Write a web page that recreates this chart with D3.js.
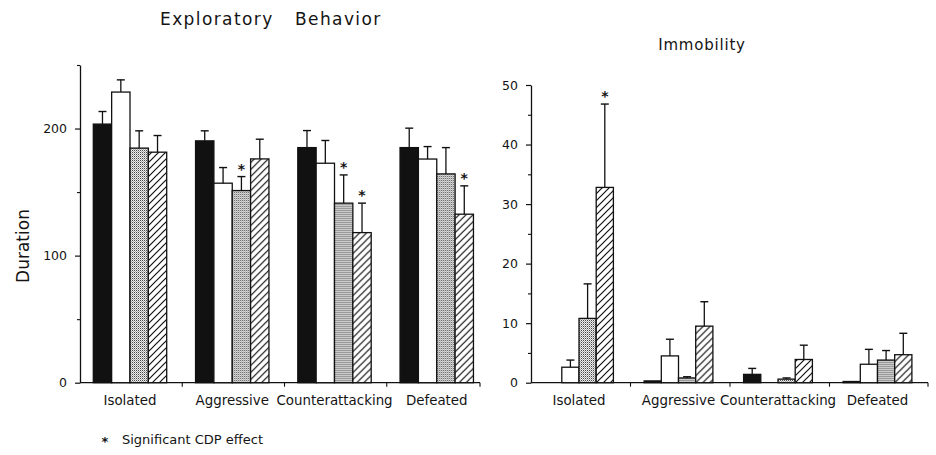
<!DOCTYPE html>
<html><head><meta charset="utf-8">
<script src="https://cdn.jsdelivr.net/npm/d3@7"></script>
<style>
body{margin:0;background:#fff}
svg{display:block}
text{font-family:"DejaVu Sans",sans-serif;fill:#141414}
</style>
</head><body>
<svg id="c" width="936" height="455"></svg>
<script>
// ---------- data ----------
const categories = ["Isolated", "Aggressive", "Counterattacking", "Defeated"];
const seriesKeys = ["black", "white", "dotted", "hatched"];

// Exploratory Behavior (Duration) — means
const exploreBlack   = [203.5, 190.3, 185.0, 185.0];
const exploreWhite   = [228.7, 157.0, 172.7, 176.0];
const exploreDotted  = [184.6, 151.2, 141.3, 164.3];
const exploreHatched = [181.4, 176.1, 118.1, 132.6];
// Exploratory Behavior — error (upper bar length)
const exploreBlackErr   = [9.9, 7.9, 13.4, 15.3];
const exploreWhiteErr   = [9.6, 12.3, 17.9, 9.8];
const exploreDottedErr  = [13.6, 11.0, 22.2, 20.7];
const exploreHatchedErr = [13.1, 15.5, 23.2, 22.3];
const exploreStars = [["Aggressive", "dotted"], ["Counterattacking", "dotted"], ["Counterattacking", "hatched"], ["Defeated", "hatched"]];
const exploreMajorTicks = [0, 100, 200];
const exploreMinorTicks = [50, 150, 250];

// Immobility — means
const immobBlack   = [0, 0.3, 1.4, 0.2];
const immobWhite   = [2.6, 4.5, 0, 3.1];
const immobDotted  = [10.8, 0.8, 0.6, 3.8];
const immobHatched = [32.8, 9.5, 3.9, 4.7];
// Immobility — error
const immobBlackErr   = [0, 0, 1.0, 0];
const immobWhiteErr   = [1.2, 2.8, 0, 2.5];
const immobDottedErr  = [5.8, 0.2, 0.2, 1.6];
const immobHatchedErr = [14.0, 4.1, 2.4, 3.6];
const immobStars = [["Isolated", "hatched"]];
const immobMajorTicks = [0, 10, 20, 30, 40, 50];
const immobMinorTicks = [5, 15, 25, 35, 45];

// ---------- drawing ----------
const svg = d3.select("#c");
const defs = svg.append("defs");

const dots = defs.append("pattern").attr("id", "dots")
  .attr("patternUnits", "userSpaceOnUse").attr("width", 2).attr("height", 2);
dots.append("rect").attr("width", 2).attr("height", 2).attr("fill", "#ececec");
dots.append("rect").attr("width", 1).attr("height", 1).attr("fill", "#4a4a4a");
dots.append("rect").attr("x", 1).attr("y", 1).attr("width", 1).attr("height", 1).attr("fill", "#a8a8a8");

const hatch = defs.append("pattern").attr("id", "hatch")
  .attr("patternUnits", "userSpaceOnUse").attr("width", 7).attr("height", 7);
hatch.append("rect").attr("width", 7).attr("height", 7).attr("fill", "#fff");
hatch.append("path").attr("d", "M-1,8 L8,-1 M-2,2 L2,-2 M5,9 L9,5")
  .attr("stroke", "#111").attr("stroke-width", 1.2);

const fills = {black: "#111", white: "#fff", dotted: "url(#dots)", hatched: "url(#hatch)"};

function buildRows(means, errs) {
  return categories.map((c, i) => {
    const o = {category: c};
    seriesKeys.forEach((k, j) => { o[k] = means[j][i]; o[k + "Err"] = errs[j][i]; });
    return o;
  });
}

function drawPanel(cfg) {
  const g = svg.append("g");
  const y = d3.scaleLinear().domain(cfg.domain).range([cfg.bottom, cfg.top]);
  const x = d3.scaleBand().domain(categories).range([cfg.left, cfg.right]);
  const xi = d3.scaleBand().domain(seriesKeys).range([cfg.innerStart, cfg.innerStart + cfg.barW * 4]);

  // y axis
  const ax = g.append("g").attr("transform", `translate(${cfg.left},0)`)
    .call(d3.axisLeft(y).tickValues(cfg.major).tickSize(5).tickSizeOuter(0).tickPadding(8));
  ax.selectAll("text").style("font-size", "12.5px").style("font-family", "DejaVu Sans");
  ax.select(".domain").attr("stroke", "#111").attr("stroke-width", 1.3);
  ax.selectAll(".tick line").attr("stroke", "#111").attr("stroke-width", 1.2);
  const axm = g.append("g").attr("transform", `translate(${cfg.left},0)`)
    .call(d3.axisLeft(y).tickValues(cfg.minor).tickSize(3).tickFormat(""));
  axm.select(".domain").remove();
  axm.selectAll(".tick line").attr("stroke", "#111").attr("stroke-width", 1.1);

  // x axis baseline and separator ticks
  g.append("line").attr("x1", cfg.left).attr("x2", cfg.axisEnd)
    .attr("y1", y(0)).attr("y2", y(0)).attr("stroke", "#111").attr("stroke-width", 1.3);
  const seps = categories.slice(1).map(c => x(c)).concat([cfg.axisEnd]);
  g.selectAll(".sep").data(seps).enter().append("line")
    .attr("x1", d => d).attr("x2", d => d).attr("y1", y(0)).attr("y2", y(0) + 4)
    .attr("stroke", "#111").attr("stroke-width", 1.1);

  const rows = cfg.rows;
  const grp = g.selectAll(".grp").data(rows).enter().append("g")
    .attr("transform", d => `translate(${x(d.category)},0)`);

  // bars
  grp.selectAll("rect").data(d => seriesKeys.map(k => ({k, v: d[k], e: d[k + "Err"], c: d.category})))
    .enter().filter(d => d.v > 0).append("rect")
    .attr("x", d => xi(d.k)).attr("width", xi.bandwidth())
    .attr("y", d => y(d.v)).attr("height", d => y(0) - y(d.v))
    .attr("fill", d => fills[d.k]).attr("stroke", "#111").attr("stroke-width", 1.3);

  // error bars
  const eb = grp.selectAll(".err").data(d => seriesKeys.map(k => ({k, v: d[k], e: d[k + "Err"]})).filter(d => d.e > 0))
    .enter().append("g");
  eb.append("line")
    .attr("x1", d => xi(d.k) + xi.bandwidth() / 2).attr("x2", d => xi(d.k) + xi.bandwidth() / 2)
    .attr("y1", d => y(d.v)).attr("y2", d => y(d.v + d.e))
    .attr("stroke", "#111").attr("stroke-width", 1.3);
  eb.append("line")
    .attr("x1", d => xi(d.k) + xi.bandwidth() / 2 - cfg.cap / 2).attr("x2", d => xi(d.k) + xi.bandwidth() / 2 + cfg.cap / 2)
    .attr("y1", d => y(d.v + d.e)).attr("y2", d => y(d.v + d.e))
    .attr("stroke", "#111").attr("stroke-width", 1.4);

  // stars
  g.selectAll(".star").data(cfg.stars).enter().append("text")
    .attr("x", d => x(d[0]) + xi(d[1]) + xi.bandwidth() / 2)
    .attr("y", d => { const r = rows.find(r => r.category === d[0]); return y(r[d[1]] + r[d[1] + "Err"]) - 3; })
    .attr("text-anchor", "middle").style("font-size", "14px").style("font-weight", "bold")
    .text("*");

  // category labels
  g.selectAll(".cat").data(categories).enter().append("text")
    .attr("x", d => x(d) + cfg.innerStart + cfg.barW * 2)
    .attr("y", cfg.bottom + 22)
    .attr("text-anchor", "middle").style("font-size", "13.4px")
    .text(d => d);
  return {x, y};
}

drawPanel({
  domain: [0, 250], bottom: 382.7, top: 65, left: 80, right: 489, axisEnd: 480,
  innerStart: 13.3, barW: 18.35, cap: 8,
  major: exploreMajorTicks, minor: exploreMinorTicks, stars: exploreStars,
  rows: buildRows([exploreBlack, exploreWhite, exploreDotted, exploreHatched],
                  [exploreBlackErr, exploreWhiteErr, exploreDottedErr, exploreHatchedErr])
});
drawPanel({
  domain: [0, 50], bottom: 382.7, top: 85, left: 531, right: 929, axisEnd: 928,
  innerStart: 13.6, barW: 17.2, cap: 8,
  major: immobMajorTicks, minor: immobMinorTicks, stars: immobStars,
  rows: buildRows([immobBlack, immobWhite, immobDotted, immobHatched],
                  [immobBlackErr, immobWhiteErr, immobDottedErr, immobHatchedErr])
});

// titles
const t1 = svg.append("text").attr("y", 25).style("font-size", "17px").style("letter-spacing", "1.4px");
t1.append("tspan").attr("x", 160).text("Exploratory");
t1.append("tspan").attr("x", 295).text("Behavior");
svg.append("text").attr("x", 702).attr("y", 50).attr("text-anchor", "middle")
  .style("font-size", "15px").style("letter-spacing", "0.8px").text("Immobility");

// y label
svg.append("text").attr("transform", "translate(29,246) rotate(-90)")
  .attr("text-anchor", "middle").style("font-size", "17px").text("Duration");

// footnote
svg.append("text").attr("x", 105).attr("y", 446).attr("text-anchor", "middle")
  .style("font-size", "13px").style("font-weight", "bold").text("*");
svg.append("text").attr("x", 122).attr("y", 444).style("font-size", "13px").text("Significant CDP effect");
</script>
</body></html>
